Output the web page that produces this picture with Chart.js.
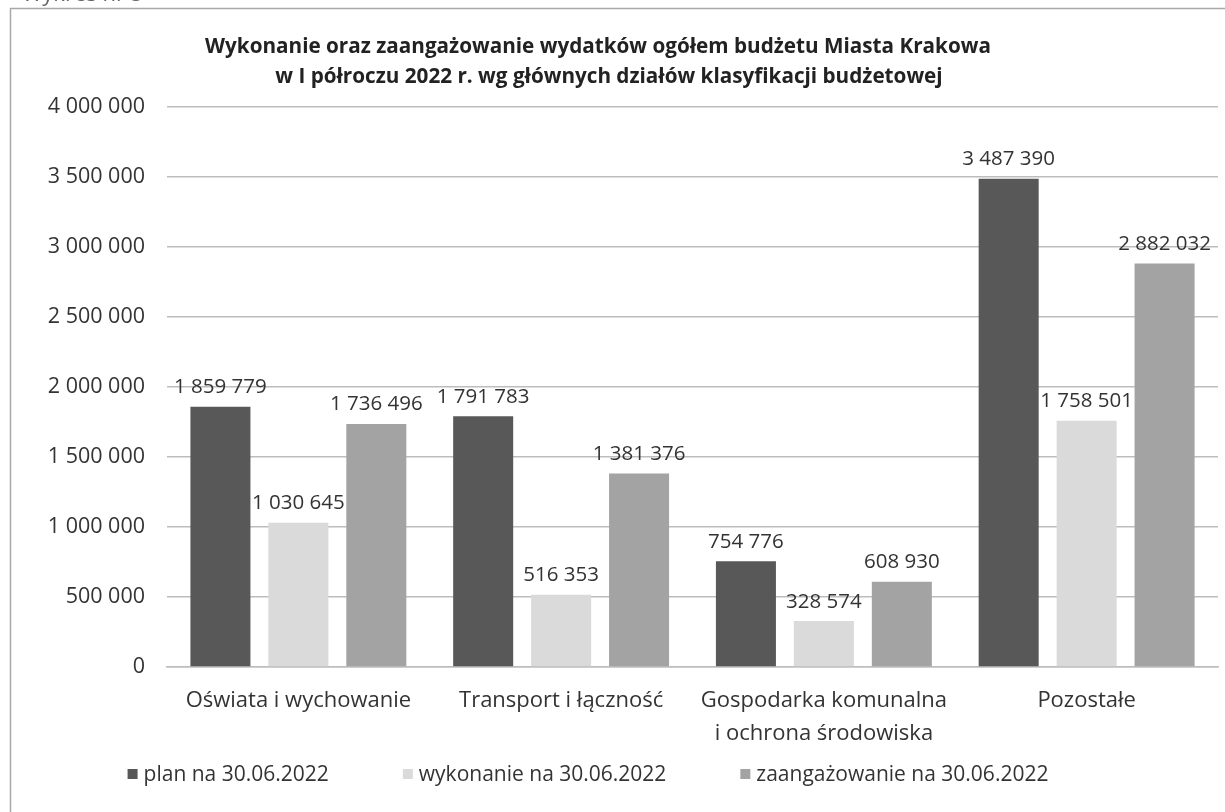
<!DOCTYPE html>
<html lang="pl">
<head>
<meta charset="utf-8">
<title>Wydatki budżetu Miasta Krakowa</title>
<script src="https://cdn.jsdelivr.net/npm/chart.js@4/dist/chart.umd.min.js"></script>
<style>
  html, body { margin: 0; padding: 0; background: #fff; overflow: hidden; }
  #wrap { width: 1225px; height: 812px; }
</style>
</head>
<body>
<div id="wrap"><canvas id="chart" width="1225" height="812"></canvas></div>
<script>
// dane
const categories = [
  'Oświata i wychowanie',
  'Transport i łączność',
  ['Gospodarka komunalna', 'i ochrona środowiska'],
  'Pozostałe'
];
const seriesNames = ['plan na 30.06.2022', 'wykonanie na 30.06.2022', 'zaangażowanie na 30.06.2022'];
const planValues = [1859779, 1791783, 754776, 3487390];
const wykonanieValues = [1030645, 516353, 328574, 1758501];
const zaangazowanieValues = [1736496, 1381376, 608930, 2882032];
const yTicks = [0, 500000, 1000000, 1500000, 2000000, 2500000, 3000000, 3500000, 4000000];
const titleLines = [
  'Wykonanie oraz zaangażowanie wydatków ogółem budżetu Miasta Krakowa',
  'w I półroczu 2022 r. wg głównych działów klasyfikacji budżetowej'
];

const FONT = '"Open Sans", "DejaVu Sans", sans-serif';
const seriesColors = ['#585858', '#dadada', '#a3a3a3'];

function fmt(v) {
  return String(v).replace(/\B(?=(\d{3})+(?!\d))/g, ' ');
}

// ramka, nagłówek, etykiety wartości i legenda
const decorPlugin = {
  id: 'decor',
  beforeDraw(chart) {
    const ctx = chart.ctx;
    ctx.save();
    ctx.fillStyle = '#fff';
    ctx.fillRect(0, 0, chart.width, chart.height);
    ctx.fillStyle = '#666';
    ctx.font = '22px ' + FONT;
    ctx.textBaseline = 'alphabetic';
    ctx.fillText('Wykres nr 5', 22, 1);
    ctx.strokeStyle = '#a8a8a8';
    ctx.lineWidth = 1.5;
    ctx.strokeRect(10.5, 8.5, chart.width + 20, chart.height + 20);
    ctx.restore();
  },
  afterDatasetsDraw(chart) {
    const ctx = chart.ctx;
    ctx.save();
    ctx.font = '20.5px ' + FONT;
    ctx.fillStyle = '#333';
    ctx.textAlign = 'center';
    ctx.textBaseline = 'bottom';
    chart.data.datasets.forEach((ds, i) => {
      const meta = chart.getDatasetMeta(i);
      meta.data.forEach((bar, j) => {
        ctx.fillText(fmt(ds.data[j]), bar.x, bar.y - 9);
      });
    });
    ctx.restore();
  },
  afterDraw(chart) {
    const ctx = chart.ctx;
    ctx.save();
    // tytuł
    ctx.fillStyle = '#222';
    ctx.font = 'bold 20.7px ' + FONT;
    ctx.textAlign = 'center';
    ctx.textBaseline = 'middle';
    ctx.fillText(titleLines[0], 598, 47);
    ctx.fillText(titleLines[1], 609, 77);

    // legenda
    ctx.font = '21px ' + FONT;
    ctx.textAlign = 'left';
    const box = 10, gapText = 6, gapItem = 74;
    const widths = seriesNames.map(n => box + gapText + ctx.measureText(n).width);
    const total = widths.reduce((a, b) => a + b, 0) + gapItem * (widths.length - 1);
    let x = 588 - total / 2;
    const y = 774;
    seriesNames.forEach((name, i) => {
      ctx.fillStyle = seriesColors[i];
      ctx.fillRect(x, y - box / 2, box, box);
      ctx.fillStyle = '#333';
      ctx.fillText(name, x + box + gapText, y + 1);
      x += widths[i] + gapItem;
    });
    ctx.restore();
  }
};

const datasets = [planValues, wykonanieValues, zaangazowanieValues].map((vals, i) => ({
  label: seriesNames[i],
  data: vals,
  backgroundColor: seriesColors[i],
  borderWidth: 0,
  categoryPercentage: 0.89,
  barPercentage: 0.77
}));

new Chart(document.getElementById('chart'), {
  type: 'bar',
  data: { labels: categories, datasets: datasets },
  plugins: [decorPlugin],
  options: {
    responsive: false,
    animation: false,
    layout: { padding: { top: 107, right: 7, bottom: 0, left: 0 } },
    plugins: {
      legend: { display: false },
      title: { display: false },
      tooltip: { enabled: false }
    },
    scales: {
      x: {
        grid: { display: false, drawTicks: false },
        border: { color: '#bdbdbd', width: 1.5 },
        ticks: {
          color: '#333',
          font: { family: FONT, size: 22, lineHeight: 1.5 },
          padding: 17,
          maxRotation: 0,
          autoSkip: false
        },
        afterFit(scale) { scale.height = 145; }
      },
      y: {
        min: 0,
        max: 4000000,
        afterBuildTicks(scale) { scale.ticks = yTicks.map(v => ({ value: v })); },
        grid: { color: '#bdbdbd', lineWidth: 1.5, drawTicks: false },
        border: { display: false },
        ticks: {
          color: '#333',
          font: { family: FONT, size: 21.5 },
          padding: 22,
          callback: (v) => fmt(v)
        },
        afterFit(scale) { scale.width = 167; }
      }
    }
  }
});
</script>
</body>
</html>
